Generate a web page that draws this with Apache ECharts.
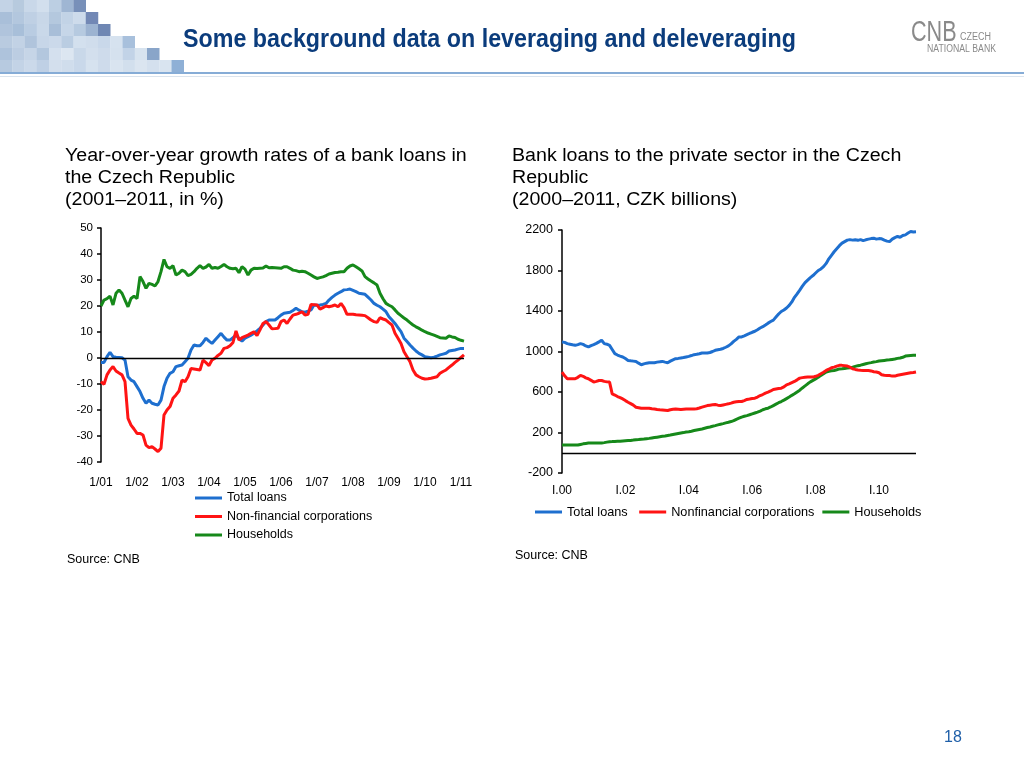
<!DOCTYPE html>
<html><head><meta charset="utf-8">
<script src="https://cdn.jsdelivr.net/npm/echarts@6.0.0/dist/echarts.min.js"></script>
<style>html,body{margin:0;padding:0;background:#fff;}#c{width:1024px;height:768px;}</style>
</head><body><div id="c"></div>
<script>
// ---------- Left chart: y/y growth, monthly Jan 2001 .. Feb 2011 ----------
const growthTotal = [
 -1.7,-1.7,0.5,2.2,0.5,0.3,0.2,0.1,-0.8,-7.2,
 -8.5,-9.1,-11.0,-12.9,-15.5,-17.4,-16.2,-17.4,-17.8,-18.1,
 -16.2,-11.0,-7.8,-5.9,-5.3,-3.3,-3.0,-2.7,-1.4,-0.1,
 3.1,5.0,4.7,4.7,6.0,7.6,6.5,5.6,6.9,8.2,
 9.5,8.0,6.9,6.9,7.8,8.8,7.5,6.5,7.6,8.2,
 8.8,9.5,10.4,11.4,12.7,14.0,14.6,14.6,14.6,15.5,
 16.5,17.2,17.4,17.6,18.3,19.1,18.4,17.8,17.6,18.0,
 18.5,20.4,20.3,20.4,20.6,21.0,22.3,23.3,24.2,24.9,
 25.5,26.2,26.3,26.5,26.0,25.5,24.9,24.7,24.5,23.4,
 22.3,21.0,20.3,19.7,18.8,17.8,15.9,14.6,13.3,11.7,
 10.1,7.6,6.3,5.0,3.8,2.7,1.8,1.2,0.5,0.3,
 0.1,0.3,0.7,1.2,1.5,1.8,2.7,2.9,3.1,3.4,
 3.7,3.7];
const growthCorp = [
 -9.1,-10.1,-6.5,-4.6,-3.3,-5.0,-5.8,-6.5,-9.1,-23.2,
 -25.8,-27.3,-29.0,-29.0,-29.6,-33.5,-34.5,-34.1,-35.0,-36.0,
 -34.7,-21.9,-20.0,-18.7,-15.5,-14.2,-12.7,-8.5,-9.1,-7.2,
 -4.0,-4.2,-4.4,-4.6,-0.8,-1.8,-2.9,-0.8,-0.1,1.0,
 1.8,3.7,4.0,4.7,6.0,10.4,6.9,7.8,8.3,8.8,
 9.5,10.1,8.6,10.8,13.3,14.0,12.7,11.2,11.3,11.4,
 14.0,14.6,13.3,15.0,16.5,16.8,17.2,17.8,16.5,16.8,
 20.6,20.5,20.4,18.8,19.4,20.0,19.7,20.0,20.4,19.7,
 21.0,19.4,16.8,16.8,16.8,16.6,16.5,16.4,16.3,15.5,
 14.6,14.0,13.7,15.5,15.0,14.6,13.6,12.7,9.5,7.6,
 5.6,2.4,0.5,-1.4,-4.6,-6.5,-7.2,-7.8,-8.1,-8.0,
 -7.8,-7.5,-7.2,-5.9,-5.2,-4.6,-3.6,-2.7,-1.7,-0.8,
 0.2,1.2];
const growthHouse = [
 20.0,22.3,22.8,23.8,20.4,24.9,26.2,24.9,22.3,19.7,
 22.9,23.8,22.9,31.3,29.4,26.8,28.7,28.3,27.7,29.4,
 33.2,37.9,35.1,34.5,35.5,31.9,32.6,33.8,33.2,31.7,
 32.2,33.2,34.5,35.5,34.5,35.0,36.0,34.5,34.8,34.5,
 35.2,36.0,35.1,34.5,34.3,34.5,32.8,35.1,34.2,31.9,
 33.8,34.5,34.4,34.5,34.6,35.4,34.7,34.8,34.7,34.6,
 34.5,35.1,35.1,34.5,33.8,33.6,33.2,33.4,33.2,32.6,
 31.9,31.2,30.6,30.9,31.2,31.7,32.3,32.6,32.9,33.0,
 33.2,33.2,34.5,35.4,35.8,35.1,34.3,33.5,31.3,30.4,
 29.6,28.9,28.1,24.9,22.8,21.0,20.3,19.7,18.5,17.2,
 16.3,15.4,14.6,13.6,12.7,12.0,11.4,10.7,10.1,9.6,
 9.2,8.8,8.3,7.8,7.7,7.6,8.5,8.1,7.9,7.2,
 6.8,6.5];
const growthStartYear = 2001;
const growthAxis = {min: -40, max: 50, interval: 10};

// ---------- Right chart: stocks, CZK bn, monthly Jan 2000 .. Mar 2011 ----------
const stockTotal = [
 1094,1090,1078,1072,1066,1061,1068,1078,1070,1055,
 1045,1058,1068,1080,1095,1111,1078,1072,1061,1020,
 979,965,955,946,930,912,908,905,902,885,
 869,878,885,889,889,889,895,898,902,895,
 889,905,918,929,932,936,940,946,952,960,
 969,972,978,985,985,985,990,1000,1012,1018,
 1022,1030,1042,1055,1075,1100,1120,1144,1144,1155,
 1167,1178,1190,1200,1215,1232,1245,1262,1280,1296,
 1310,1340,1370,1395,1410,1430,1455,1490,1535,1570,
 1607,1645,1680,1705,1730,1750,1775,1800,1815,1838,
 1870,1915,1950,1985,2015,2045,2070,2085,2100,2105,
 2100,2103,2098,2105,2095,2103,2110,2115,2119,2110,
 2115,2113,2100,2090,2086,2110,2125,2136,2128,2145,
 2152,2170,2185,2180,2182];
const stockCorp = [
 797,760,731,731,731,731,745,764,755,740,
 731,715,698,705,714,714,705,700,698,582,
 570,555,545,532,515,499,485,470,450,445,
 440,440,440,440,435,433,428,425,423,420,
 417,425,430,433,430,427,430,433,433,433,
 433,435,442,450,458,466,470,474,476,470,
 466,472,478,483,490,499,503,506,506,515,
 526,530,535,539,550,565,575,588,598,610,
 625,630,635,638,650,671,680,692,704,720,
 737,742,745,747,747,747,755,765,780,795,
 813,825,840,846,855,863,863,860,856,845,
 830,823,818,815,813,813,813,808,800,797,
 790,770,765,764,762,757,757,765,770,775,
 780,785,790,792,797];
const stockHouse = [
 76,76,76,76,76,76,76,82,88,92,
 96,96,96,96,96,96,100,105,109,110,
 112,113,114,116,118,120,122,125,129,131,
 134,136,139,142,146,150,154,158,162,166,
 171,175,180,185,190,195,199,204,208,213,
 219,225,230,235,242,249,255,262,268,275,
 282,288,295,301,308,317,330,341,352,360,
 367,375,384,393,402,412,425,434,440,452,
 466,480,494,506,520,535,550,567,582,600,
 618,640,660,681,700,715,730,745,764,780,
 797,805,810,813,820,828,830,833,836,840,
 846,853,860,865,872,879,885,890,896,900,
 906,909,912,915,918,922,926,932,936,943,
 955,958,960,962,962];
const stockStartYear = 2000;
const stockAxis = {min: -200, max: 2200, interval: 400};

const romanMonths = ['I','II','III','IV','V','VI','VII','VIII','IX','X','XI','XII'];
const yy = y => String(y % 100).padStart(2, '0');
const growthCategories = growthTotal.map((_, i) => (i % 12 + 1) + '/' + yy(growthStartYear + Math.floor(i / 12)));
const stockCategories = stockTotal.map((_, i) => romanMonths[i % 12] + '.' + yy(stockStartYear + Math.floor(i / 12)));

const BLUE = '#1E6FCF', RED = '#FF1414', GREEN = '#16891A';
const FONT = '"Liberation Sans", Arial, sans-serif';

const zeroLine = {
  silent: true, symbol: ['none', 'none'], label: {show: false},
  lineStyle: {color: '#000', width: 1.3, type: 'solid'},
  emphasis: {disabled: true}, data: [{yAxis: 0}]
};
function lineSeries(name, data, color, xi, withZero) {
  const s = {
    name, type: 'line', data, xAxisIndex: xi, yAxisIndex: xi, color,
    showSymbol: false, symbol: 'none', lineStyle: {width: 3, color},
    emphasis: {disabled: true}
  };
  if (withZero) s.markLine = zeroLine;
  return s;
}

// header mosaic (decoration)
const mosaicRows = [
  ['#c3d3e6','#b7cade','#c9d8e9','#d2dfed','#bccfe3','#9fb6d3','#7890b9'],
  ['#a9bfd9','#b3c7de','#bfd0e4','#c8d7e8','#b4c8de','#c2d3e6','#cddbeb','#7288b5'],
  ['#b0c4dc','#a8bfd9','#b9cce2','#c9d8e9','#a8bed8','#c6d6e8','#b6cae0','#9cb3d1','#6f87b3'],
  ['#b9cbe0','#c2d2e5','#b0c4dc','#c7d6e8','#cbd9ea','#bacde2','#d3e0ee','#d0ddec','#c9d8ea','#d6e2ef','#a8c0dc'],
  ['#aec3dc','#bccde2','#c6d5e7','#b3c7de','#d4e0ee','#dce6f1','#c9d8e9','#d3dfed','#cedbeb','#d5e1ee','#c2d3e7','#d7e3ef','#89a5c9'],
  ['#b7cae0','#c3d3e6','#cbd9ea','#bfd0e5','#d3dfed','#d0ddec','#c9d8ea','#d6e2ef','#cedbeb','#d9e4f0','#d2dfed','#dbe5f0','#d4e0ee','#d9e4f0','#8fb0d6']
];
const mosaic = [];
mosaicRows.forEach((row, r) => row.forEach((c, k) => {
  mosaic.push({type: 'rect', silent: true, shape: {x: k * 12.25, y: r * 12, width: 12.5, height: 12.2}, style: {fill: c}});
}));

const plainNum = v => String(v);

const chart = echarts.init(document.getElementById('c'), null, {renderer: 'canvas'});
chart.setOption({
  animation: false,
  backgroundColor: '#fff',
  textStyle: {fontFamily: FONT},
  grid: [
    {left: 101, top: 228, width: 363, height: 234, containLabel: false},
    {left: 562, top: 230, width: 354, height: 243, containLabel: false}
  ],
  xAxis: [
    {type: 'category', gridIndex: 0, data: growthCategories, boundaryGap: false,
     axisLine: {show: false, onZero: false}, axisTick: {show: false}, splitLine: {show: false},
     axisLabel: {interval: 11, margin: 15, fontSize: 12, color: '#000', fontFamily: FONT}},
    {type: 'category', gridIndex: 1, data: stockCategories, boundaryGap: false,
     axisLine: {show: false, onZero: false}, axisTick: {show: false}, splitLine: {show: false},
     axisLabel: {interval: 23, margin: 12, fontSize: 12, color: '#000', fontFamily: FONT}}
  ],
  yAxis: [
    {type: 'value', gridIndex: 0, min: growthAxis.min, max: growthAxis.max, interval: growthAxis.interval,
     axisLine: {show: true, lineStyle: {color: '#000', width: 1.5}},
     axisTick: {show: true, length: 4, lineStyle: {color: '#000', width: 1.5}},
     splitLine: {show: false},
     axisLabel: {margin: 8, fontSize: 11.5, color: '#000', fontFamily: FONT, formatter: plainNum}},
    {type: 'value', gridIndex: 1, min: stockAxis.min, max: stockAxis.max, interval: stockAxis.interval,
     axisLine: {show: true, lineStyle: {color: '#000', width: 1.5}},
     axisTick: {show: true, length: 4, lineStyle: {color: '#000', width: 1.5}},
     splitLine: {show: false},
     axisLabel: {margin: 9, fontSize: 12.5, color: '#000', fontFamily: FONT, formatter: plainNum}}
  ],
  legend: [
    {data: ['Total loans', 'Non-financial corporations', 'Households'], orient: 'vertical',
     left: 195, top: 491, padding: 0, icon: 'rect', itemWidth: 27, itemHeight: 3, itemGap: 4.5,
     selectedMode: false, textStyle: {fontSize: 12.5, color: '#000', fontFamily: FONT, lineHeight: 14}},
    {data: ['Total loans ', 'Nonfinancial corporations', 'Households '], orient: 'horizontal',
     left: 535, top: 505, padding: 0, icon: 'rect', itemWidth: 27, itemHeight: 3, itemGap: 8,
     selectedMode: false, textStyle: {fontSize: 12.7, color: '#000', fontFamily: FONT, lineHeight: 14}}
  ],
  series: [
    lineSeries('Households', growthHouse, GREEN, 0, true),
    lineSeries('Total loans', growthTotal, BLUE, 0, false),
    lineSeries('Non-financial corporations', growthCorp, RED, 0, false),
    lineSeries('Households ', stockHouse, GREEN, 1, true),
    lineSeries('Nonfinancial corporations', stockCorp, RED, 1, false),
    lineSeries('Total loans ', stockTotal, BLUE, 1, false)
  ],
  graphic: [
    ...mosaic,
    {type: 'rect', silent: true, shape: {x: 0, y: 72, width: 1024, height: 2}, style: {fill: '#86acd6'}},
    {type: 'rect', silent: true, shape: {x: 0, y: 76, width: 1024, height: 1}, style: {fill: '#dbe4ee'}},
    {type: 'text', silent: true, x: 183, y: 40, scaleX: 0.895,
     style: {text: 'Some background data on leveraging and deleveraging', font: 'bold 26px "Liberation Sans", Arial, sans-serif',
             fill: '#0B3C7C', textVerticalAlign: 'middle'}},
    {type: 'text', silent: true, x: 911, y: 33, scaleX: 0.72,
     style: {text: 'CNB', font: '30px "Liberation Sans", Arial, sans-serif', fill: '#8a8a8a', textVerticalAlign: 'middle'}},
    {type: 'text', silent: true, x: 960, y: 37, scaleX: 0.9,
     style: {text: 'CZECH', font: '10px "Liberation Sans", Arial, sans-serif', fill: '#8a8a8a', textVerticalAlign: 'middle'}},
    {type: 'text', silent: true, x: 927, y: 49, scaleX: 0.87,
     style: {text: 'NATIONAL BANK', font: '10px "Liberation Sans", Arial, sans-serif', fill: '#8a8a8a', textVerticalAlign: 'middle'}},
    {type: 'text', silent: true, x: 65, y: 145, scaleX: 1.09,
     style: {text: 'Year-over-year growth rates of a bank loans in\nthe Czech Republic\n(2001\u20132011, in %)',
             font: '18px "Liberation Sans", Arial, sans-serif', lineHeight: 22, fill: '#000', textVerticalAlign: 'top'}},
    {type: 'text', silent: true, x: 512, y: 145, scaleX: 1.09,
     style: {text: 'Bank loans to the private sector in the Czech\nRepublic\n(2000\u20132011, CZK billions)',
             font: '18px "Liberation Sans", Arial, sans-serif', lineHeight: 22, fill: '#000', textVerticalAlign: 'top'}},
    {type: 'text', silent: true, x: 67, y: 560,
     style: {text: 'Source: CNB', font: '12.5px "Liberation Sans", Arial, sans-serif', fill: '#000', textVerticalAlign: 'middle'}},
    {type: 'text', silent: true, x: 515, y: 556,
     style: {text: 'Source: CNB', font: '12.5px "Liberation Sans", Arial, sans-serif', fill: '#000', textVerticalAlign: 'middle'}},
    {type: 'text', silent: true, x: 953, y: 738,
     style: {text: '18', font: '16px "Liberation Sans", Arial, sans-serif', fill: '#1F5FA8', textAlign: 'center', textVerticalAlign: 'middle'}}
  ]
});
</script>
</body></html>
